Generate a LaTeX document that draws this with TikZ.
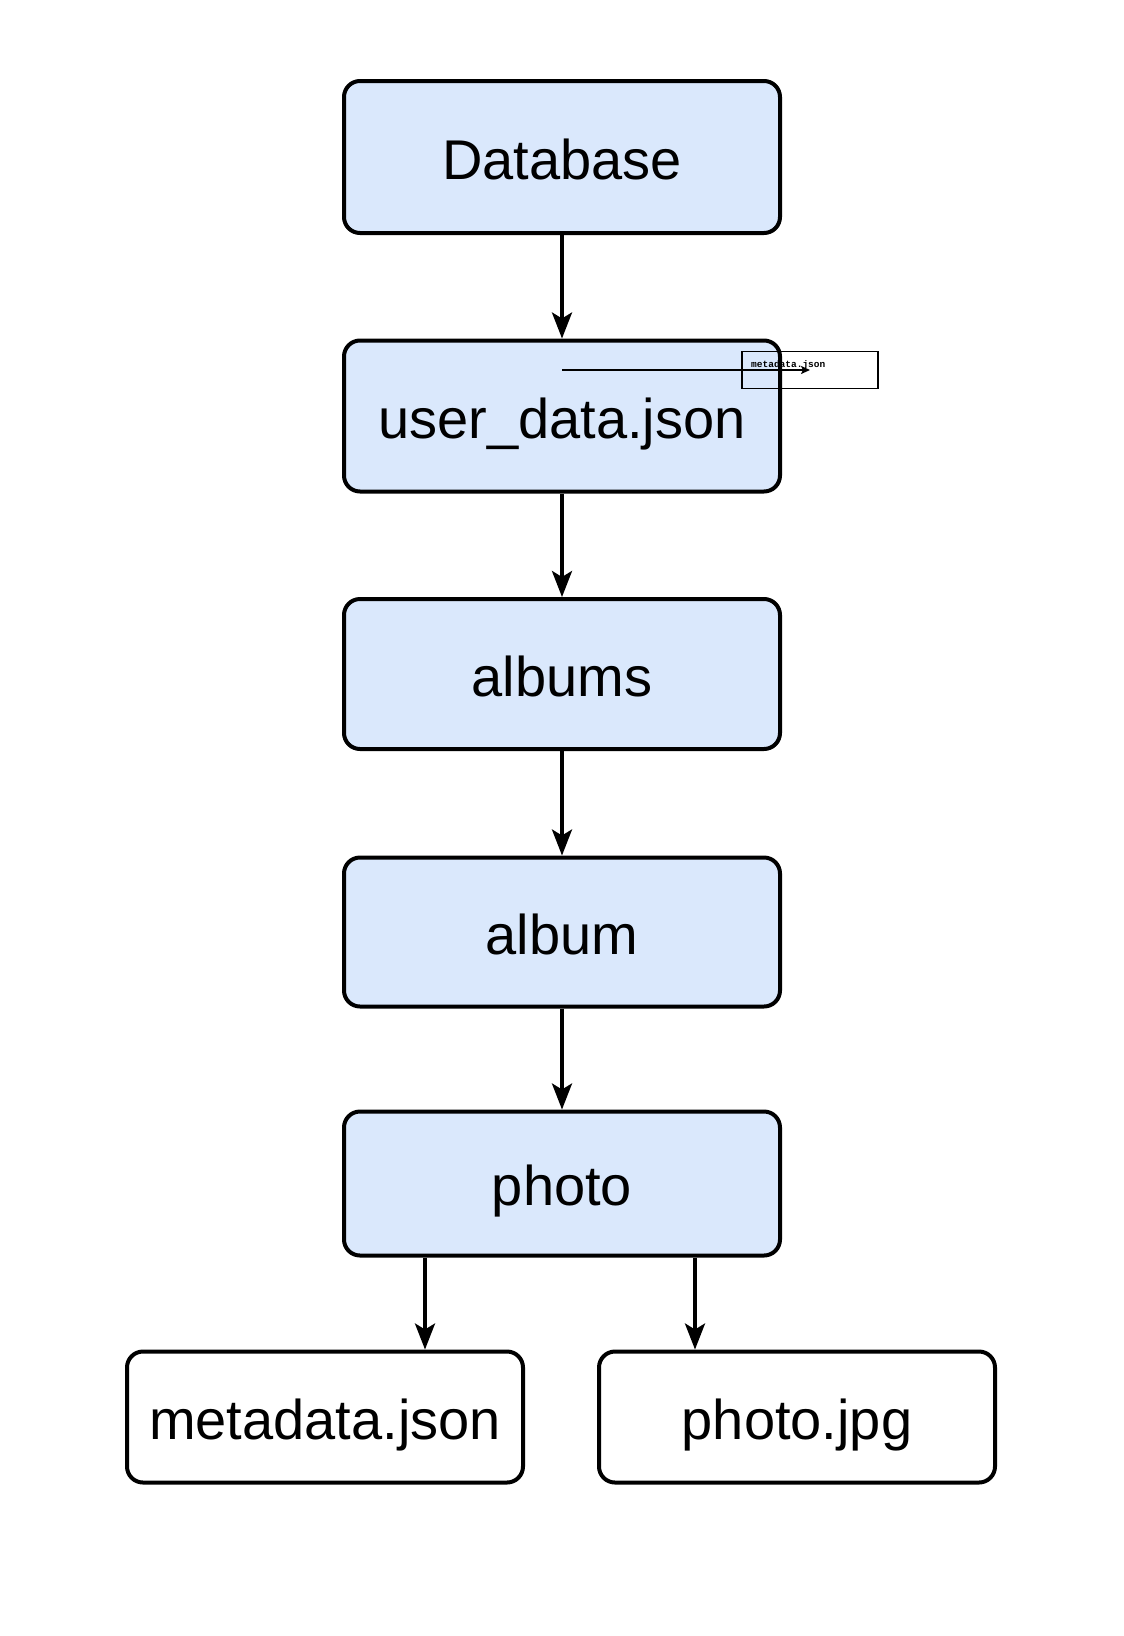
\documentclass[tikz,border=0pt]{standalone}
\usepackage{fontspec}
\setmainfont{Liberation Sans}
\newfontfamily\smallmono{Liberation Mono}
\usetikzlibrary{arrows.meta}
\definecolor{boxblue}{HTML}{DAE8FC}
\begin{document}
\begin{tikzpicture}[x=1pt,y=-1pt,
  bluebox/.style={draw=black,line width=4pt,rounded corners=16pt,fill=boxblue,
    minimum width=436pt,inner sep=0pt,text height=50pt,text depth=6pt,
    font=\fontsize{56}{60}\selectfont},
  whitebox/.style={draw=black,line width=4pt,rounded corners=16pt,fill=white,
    minimum width=396pt,minimum height=131pt,inner sep=0pt,text height=50pt,text depth=6pt,
    font=\fontsize{56}{60}\selectfont},
  conn/.style={line width=3.6pt,-{Stealth[length=26pt,width=20pt,inset=6pt]}},
  thin/.style={line width=2pt,-{Stealth[length=9pt,width=8pt,inset=2pt]}}]
\useasboundingbox[fill=white] (0,0) rectangle (1124,1636);
\node[bluebox,minimum height=152pt] (db) at (562,157) {Database};
\node[bluebox,minimum height=151pt] (ud) at (562,416) {user\_data.json};
\node[bluebox,minimum height=150pt] (albums) at (562,674) {albums};
\node[bluebox,minimum height=149pt] (album) at (562,932) {album};
\node[bluebox,minimum height=144pt] (photo) at (562,1183.5) {photo};
\node[whitebox] (meta) at (325,1417) {metadata.json};
\node[whitebox] (jpg) at (797,1417) {photo.jpg};
\draw[conn] (db.south) -- (ud.north);
\draw[conn] (ud.south) -- (albums.north);
\draw[conn] (albums.south) -- (album.north);
\draw[conn] (album.south) -- (photo.north);
\coordinate (q1) at (425,0);
\coordinate (q2) at (695,0);
\draw[conn] (photo.south -| q1) -- (meta.north -| q1);
\draw[conn] (photo.south -| q2) -- (jpg.north -| q2);
\node[draw=black,line width=1.5pt,minimum width=136pt,minimum height=37pt,inner sep=0pt] (mbox) at (810,370) {};
\node[anchor=west,inner sep=0pt,font=\smallmono\bfseries\fontsize{9.5}{10}\selectfont] (mtext) at (751,365) {metadata.json};
\coordinate (s1) at (562,370);
\coordinate (e1) at (810,370);
\draw[thin] (s1) -- (e1);
\end{tikzpicture}
\end{document}
